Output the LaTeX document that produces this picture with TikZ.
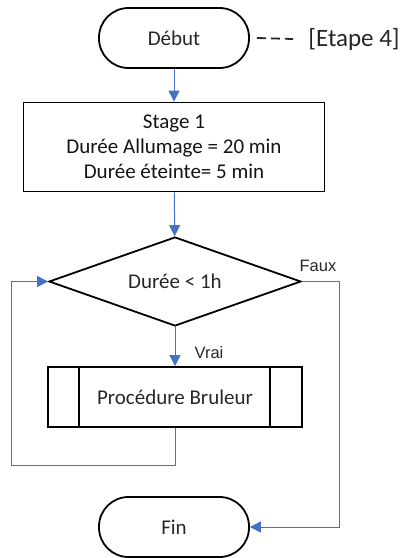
\documentclass[tikz,border=0pt]{standalone}
\usepackage{fontspec}
\setmainfont{Carlito}
\newfontfamily\lblfont{Liberation Sans}
\usetikzlibrary{shapes.geometric,arrows.meta}
\definecolor{conn}{HTML}{4472C4}
\definecolor{txt}{HTML}{262626}
\begin{document}
\begin{tikzpicture}[x=1pt,y=-1pt,
  every node/.style={text=txt},
  border/.style={draw=black,line width=1.8pt},
  term/.style={border,rectangle,rounded corners=29.5pt,minimum width=150pt,minimum height=60pt,inner sep=0pt,font=\fontsize{21}{25}\selectfont},
  procbox/.style={border,rectangle,minimum width=301pt,minimum height=89pt,inner sep=0pt,align=center,font=\fontsize{21}{25}\selectfont},
  decision/.style={border,diamond,aspect=2.83,minimum width=252pt,minimum height=89pt,inner sep=0pt,font=\fontsize{21}{25}\selectfont},
  subproc/.style={border,rectangle,minimum width=254pt,minimum height=60pt,inner sep=0pt,font=\fontsize{21}{25}\selectfont},
  lbl/.style={inner sep=0pt,font=\lblfont\fontsize{16.5}{19}\selectfont},
  arr/.style={draw=conn,line width=1pt,-{Triangle[length=11pt,width=11pt]}},
  dashline/.style={draw=txt,line width=1.8pt,dash pattern=on 9pt off 5pt}
]
\useasboundingbox (0,0) rectangle (405,558);
\node[term] (debut) at (174,38) {Début};
\node[inner sep=0pt,font=\fontsize{25}{28}\selectfont] (etape) at (354,39) {[Etape 4]};
\node[procbox,text=black!92] (stage) at (174,147) {Stage 1\\Durée Allumage = 20 min\\Durée éteinte= 5 min};
\node[decision] (dec) at (175,281.5) {Durée < 1h};
\node[subproc] (proc) at (175,397) {Procédure Bruleur};
\node[term] (fin) at (174,527) {Fin};
\node[lbl] (faux) at (318,265.5) {Faux};
\node[lbl] (vrai) at (209,353) {Vrai};
\coordinate (loopL) at (11,465);
\coordinate (rightR) at (339,281.5);

\draw[border] ([xshift=32pt]proc.north west) -- ([xshift=32pt]proc.south west);
\draw[border] ([xshift=-33pt]proc.north east) -- ([xshift=-33pt]proc.south east);
\draw[dashline] ([xshift=7pt]debut.east) -- ([xshift=-15pt]etape.west);

\draw[arr] (debut) -- (stage);
\draw[arr] (stage) -- (dec);
\draw[arr] (dec) -- (proc);
\draw[arr] (dec.east) -- (rightR) |- (fin.east);
\draw[arr] (proc.south) |- (loopL) |- (dec.west);
\end{tikzpicture}
\end{document}
